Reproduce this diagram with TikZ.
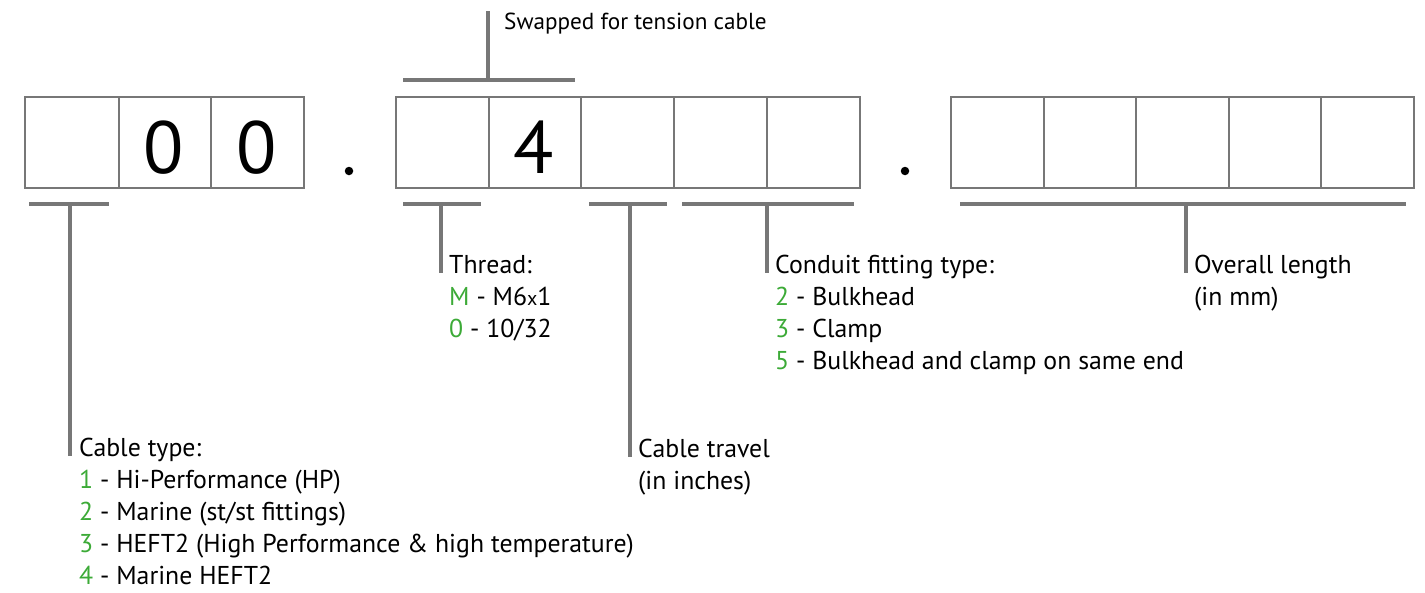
\documentclass[tikz,border=0pt]{standalone}
\usepackage{fontspec}
\setmainfont{PT Sans}
\definecolor{lgray}{HTML}{777777}
\definecolor{codegreen}{RGB}{60,170,55}
\tikzset{
  cell/.style={draw=lgray, line width=2pt, minimum width=#1, minimum height=91pt, inner sep=0pt, anchor=north west},
  bar/.style={draw=lgray, line width=4.5pt},
  digit/.style={font=\fontsize{74}{74}\selectfont, inner sep=0pt, anchor=base},
  lbl/.style={font=\fontsize{25.8}{32}\selectfont, inner sep=0pt, anchor=base west},
  small/.style={font=\fontsize{23.2}{24}\selectfont, inner sep=0pt, anchor=base west},
  dotm/.style={circle, fill=black, inner sep=0pt, minimum size=8.5pt}
}
\newcommand{\g}[1]{\textcolor{codegreen}{#1}}
\begin{document}
\begin{tikzpicture}[x=1pt, y=-1pt]
\useasboundingbox (0,0) rectangle (1425,592);
% first group
\node[cell=93.5pt] (a1) at (24,96) {};
\node[cell=92.5pt] (a2) at (117.5,96) {};
\node[cell=93pt] (a3) at (210,96) {};
\node[digit] (d1) at (164,173) {0};
\node[digit] (d2) at (256.5,173) {0};
\node[dotm] (p1) at (349,171) {};
% second group
\node[cell=93pt] (b1) at (395,96) {};
\node[cell=92pt] (b2) at (488,96) {};
\node[cell=93pt] (b3) at (580,96) {};
\node[cell=93pt] (b4) at (673,96) {};
\node[cell=93pt] (b5) at (766,96) {};
\node[digit] (d3) at (534,173) {4};
\node[dotm] (p2) at (905,171) {};
% third group
\node[cell=92.6pt] (e1) at (950,96) {};
\node[cell=92.6pt] (e2) at (1042.6,96) {};
\node[cell=92.6pt] (e3) at (1135.2,96) {};
\node[cell=92.6pt] (e4) at (1227.8,96) {};
\node[cell=92.6pt] (e5) at (1320.4,96) {};

% top bracket
\coordinate (tl) at (403,80);
\coordinate (tr) at (575,80);
\coordinate (tm) at (488,80);
\coordinate (tt) at (488,11);
\draw[bar] (tl) -- (tr);
\draw[bar] (tm) -- (tt);
\node[small] (swap) at (504,29) {Swapped for tension cable};

% Cable type
\coordinate (c1l) at (29,204);
\coordinate (c1r) at (109,204);
\coordinate (c1m) at (70,204);
\draw[bar] (c1l) -- (c1r);
\node[lbl] (cable0) at (79,456) {Cable type:};
\node[lbl] (cable1) at (79,488) {\g{1} - Hi-Performance (HP)};
\node[lbl] (cable2) at (79,520) {\g{2} - Marine (st/st fittings)};
\node[lbl] (cable3) at (79,552) {\g{3} - HEFT2 (High Performance \& high temperature)};
\node[lbl] (cable4) at (79,584) {\g{4} - Marine HEFT2};
\coordinate (c1e) at (70,456);
\draw[bar] (c1m) -- (c1e);

% Thread
\coordinate (c2l) at (403,204);
\coordinate (c2r) at (481,204);
\coordinate (c2m) at (441,204);
\draw[bar] (c2l) -- (c2r);
\node[lbl] (thread0) at (449,273) {Thread:};
\node[lbl] (thread1) at (449,305) {\g{M} - M6{\fontsize{20}{20}\selectfont x}1};
\node[lbl] (thread2) at (449,337) {\g{0} - 10/32};
\coordinate (c2e) at (441,273);
\draw[bar] (c2m) -- (c2e);

% Cable travel
\coordinate (c3l) at (589,204);
\coordinate (c3r) at (667,204);
\coordinate (c3m) at (630,204);
\draw[bar] (c3l) -- (c3r);
\node[lbl] (travel0) at (638,457) {Cable travel};
\node[lbl] (travel1) at (638,489) {(in inches)};
\coordinate (c3e) at (630,457);
\draw[bar] (c3m) -- (c3e);

% Conduit fitting
\coordinate (c4l) at (682,204);
\coordinate (c4r) at (854,204);
\coordinate (c4m) at (767,204);
\draw[bar] (c4l) -- (c4r);
\node[lbl] (conduit0) at (775,273) {Conduit fitting type:};
\node[lbl] (conduit1) at (775,305) {\g{2} - Bulkhead};
\node[lbl] (conduit2) at (775,337) {\g{3} - Clamp};
\node[lbl] (conduit3) at (775,369) {\g{5} - Bulkhead and clamp on same end};
\coordinate (c4e) at (767,273);
\draw[bar] (c4m) -- (c4e);

% Overall length
\coordinate (c5l) at (960,204);
\coordinate (c5r) at (1406,204);
\coordinate (c5m) at (1186,204);
\draw[bar] (c5l) -- (c5r);
\node[lbl] (length0) at (1194,273) {Overall length};
\node[lbl] (length1) at (1194,305) {(in mm)};
\coordinate (c5e) at (1186,273);
\draw[bar] (c5m) -- (c5e);
\end{tikzpicture}
\end{document}
